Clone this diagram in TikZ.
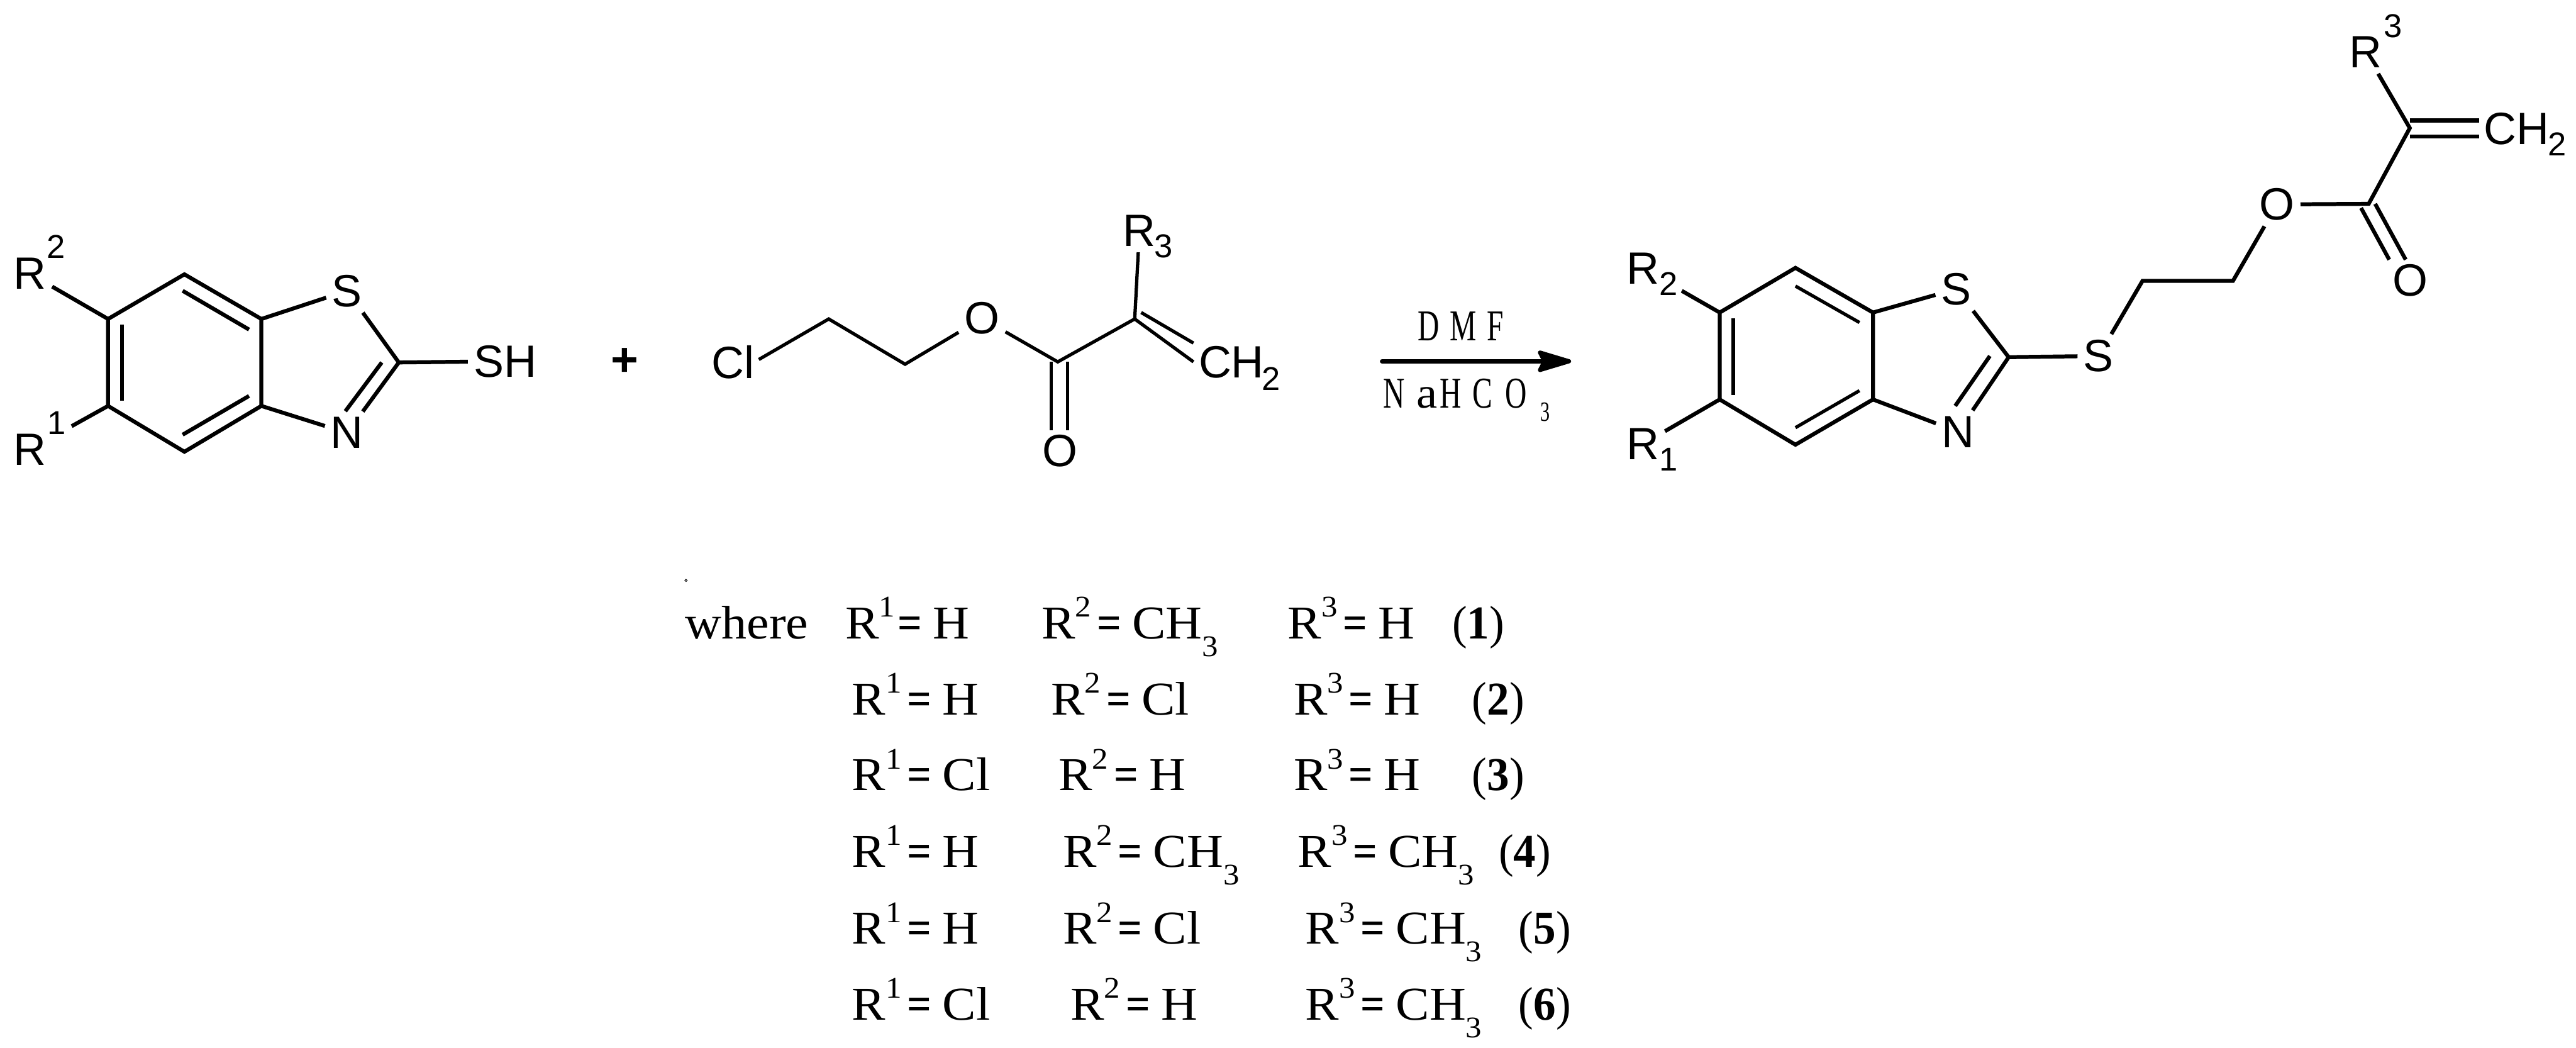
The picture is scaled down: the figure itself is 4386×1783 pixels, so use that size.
\documentclass[tikz,border=0pt]{standalone}
\usepackage{fontspec}
\setmainfont[FakeStretch=1.07]{Liberation Serif}
\newfontfamily\chemfont{Liberation Sans}
\newfontfamily\condfont[FakeStretch=0.68]{Liberation Serif}
\newfontfamily\numfont[FakeStretch=0.95]{Liberation Serif}
\usetikzlibrary{arrows.meta}

\newcommand{\chemsize}{\fontsize{21.9}{24}\selectfont}
\newcommand{\chemsmall}{\fontsize{16}{18}\selectfont}
\newcommand{\tblsize}{\fontsize{22.8}{25}\selectfont}
\newcommand{\tblsmall}{\fontsize{14.5}{16}\selectfont}
\newcommand{\reagsize}{\fontsize{21.3}{24}\selectfont}
\newcommand{\lowthree}{\raisebox{-.3cm}{\tblsmall 3}}
\newcommand{\rterm}[3][.94cm]{\makebox[#1][l]{R\raisebox{.37cm}{\tblsmall #2}}\makebox[.60cm][l]{\scalebox{.85}[1]{\textbf{=}}}#3}

\begin{document}
\begin{tikzpicture}[x=0.01cm, y=-0.01cm,
    bond/.style = {line width=1.9pt},
    thinbond/.style = {line width=1.6pt},
    atom/.style = {font=\chemfont\chemsize, inner sep=.1cm, outer sep=0pt},
    atomnum/.style = {font=\chemfont\chemsmall, inner sep=0pt, outer sep=0pt},
    reagent/.style = {font=\condfont\reagsize, anchor=base west, inner sep=0pt},
    tbl/.style = {font=\tblsize, anchor=base west, inner sep=0pt}]
    \useasboundingbox (0,0) rectangle (4386,1783);

    % left reactant
    \coordinate (la1) at (314,467);
    \coordinate (la2) at (445,543);
    \coordinate (la3) at (445,691);
    \coordinate (la4) at (314,769);
    \coordinate (la5) at (184,691);
    \coordinate (la6) at (184,543);
    \coordinate (lc2) at (679,617);
    \coordinate (li1) at (311,495);
    \coordinate (li2) at (424,561);
    \coordinate (li3) at (424,674);
    \coordinate (li4) at (311,740);
    \coordinate (li5) at (208,682);
    \coordinate (li6) at (208,553);
    \coordinate (ld1) at (650,617);
    \coordinate (ld2) at (588,700);
    \node[atom] (ls) at (591,495) {S};
    \node[atom] (ln) at (591,737) {N};
    \node[atom] (lsh) at (860,615) {SH};
    \node[atom] (lrb) at (51,466) {R};
    \node[atomnum] (lrbn) at (95,420) {2};
    \node[atom] (lra) at (51,765) {R};
    \node[atomnum] (lran) at (96,720) {1};

    \draw[bond] (la1) -- (la2) -- (la3) -- (la4) -- (la5) -- (la6) -- cycle;
    \draw[bond] (li1) -- (li2);
    \draw[bond] (li3) -- (li4);
    \draw[bond] (li5) -- (li6);
    \draw[bond] (la2) -- (ls);
    \draw[bond] (la3) -- (ln);
    \draw[bond] (ls) -- (lc2);
    \draw[bond] (lc2) -- (ln);
    \draw[bond] (ld1) -- (ld2);
    \draw[bond] (lc2) -- (lsh);
    \draw[bond] (la6) -- (lrb);
    \draw[bond, shorten >=.38cm] (la5) -- (lra);

    \node[font=\chemfont\bfseries\fontsize{22.8}{25}\selectfont, inner sep=0pt] (plus) at (1064,616) {+};

    % middle reactant
    \coordinate (mc1) at (1411,543);
    \coordinate (mc2) at (1541,620);
    \coordinate (mc3) at (1801,616);
    \coordinate (mc4) at (1932,543);
    \coordinate (mcl) at (1292,612);
    \coordinate (mo1) at (1790,616);
    \coordinate (mo2) at (1790,732);
    \coordinate (mo3) at (1818,616);
    \coordinate (mo4) at (1818,732);
    \coordinate (md1) at (1943,532);
    \coordinate (md2) at (2032,584);
    \coordinate (md3) at (2032,616);
    \node[atom] (mcln) at (1248,617) {Cl};
    \node[atom] (mo) at (1672,542) {O};
    \node[atom] (mco) at (1805,767) {O};
    \node[atom] (mr) at (1940,393) {R};
    \node[atomnum] (mrn) at (1981,419) {3};
    \node[atom, anchor=west, inner sep=0pt] (mch) at (2041,617) {CH};
    \node[atomnum] (mchn) at (2164,645) {2};

    \draw[thinbond] (mcl) -- (mc1) -- (mc2) -- (mo);
    \draw[thinbond] (mo) -- (mc3) -- (mc4) -- (mr);
    \draw[thinbond] (mc4) -- (md3);
    \draw[thinbond] (md1) -- (md2);
    \draw[thinbond] (mo1) -- (mo2);
    \draw[thinbond] (mo3) -- (mo4);

    % reaction arrow
    \coordinate (arrs) at (2353,615);
    \coordinate (arre) at (2675,615);
    \draw[line width=2pt, line cap=round, -{Stealth[length=.68cm, width=.4cm, inset=.1cm, round]}] (arrs) -- (arre);
    \node[reagent] (dmf) at (2413,580) {\makebox[.55cm][l]{D}\makebox[.63cm][l]{M}F};
    \node[reagent] (nahco) at (2355,694) {\makebox[.56cm][l]{N}\makebox[.40cm][l]{\rmfamily a}\makebox[.55cm][l]{H}\makebox[.56cm][l]{C}\makebox[.60cm][l]{O}\raisebox{-.23cm}{\fontsize{13.5}{15}\selectfont 3}};

    % product
    \coordinate (ra1) at (3057,456);
    \coordinate (ra2) at (3189,532);
    \coordinate (ra3) at (3189,680);
    \coordinate (ra4) at (3057,757);
    \coordinate (ra5) at (2928,680);
    \coordinate (ra6) at (2928,532);
    \coordinate (rc2) at (3420,608);
    \coordinate (ri1) at (3057,487);
    \coordinate (ri2) at (3166,549);
    \coordinate (ri3) at (3166,665);
    \coordinate (ri4) at (3057,728);
    \coordinate (ri5) at (2951,672);
    \coordinate (ri6) at (2951,542);
    \coordinate (rd1) at (3388,606);
    \coordinate (rd2) at (3329,691);
    \coordinate (rc3) at (3648,478);
    \coordinate (rc4) at (3802,478);
    \coordinate (rc5) at (4033,347);
    \coordinate (rc6) at (4103,218);
    \coordinate (re1) at (4103,205);
    \coordinate (re2) at (4221,205);
    \coordinate (re3) at (4103,232);
    \coordinate (re4) at (4221,232);
    \coordinate (rf1) at (4020,354);
    \coordinate (rf2) at (4068,442);
    \coordinate (rf3) at (4044,347);
    \coordinate (rf4) at (4096,442);
    \node[atom] (rs) at (3331,492) {S};
    \node[atom] (rn) at (3334,735) {N};
    \node[atom] (rs2) at (3573,606) {S};
    \node[atom] (ro) at (3877,348) {O};
    \node[atom] (rco) at (4104,477) {O};
    \node[atom] (rr3) at (4028,89) {R};
    \node[atomnum] (rr3n) at (4074,44) {3};
    \node[atom, anchor=west, inner sep=0pt] (rch) at (4229,219) {CH};
    \node[atomnum] (rchn) at (4354,245) {2};
    \node[atom] (rrb) at (2797,457) {R};
    \node[atomnum] (rrbn) at (2841,483) {2};
    \node[atom] (rra) at (2797,756) {R};
    \node[atomnum] (rran) at (2841,782) {1};

    \draw[bond] (ra1) -- (ra2) -- (ra3) -- (ra4) -- (ra5) -- (ra6) -- cycle;
    \draw[thinbond] (ri1) -- (ri2);
    \draw[thinbond] (ri3) -- (ri4);
    \draw[thinbond] (ri5) -- (ri6);
    \draw[bond] (ra2) -- (rs);
    \draw[bond] (ra3) -- (rn);
    \draw[bond] (rs) -- (rc2);
    \draw[bond] (rc2) -- (rn);
    \draw[bond] (rd1) -- (rd2);
    \draw[bond] (rc2) -- (rs2);
    \draw[bond] (rs2) -- (rc3) -- (rc4) -- (ro);
    \draw[bond] (ro) -- (rc5) -- (rc6) -- (rr3);
    \draw[bond] (re1) -- (re2);
    \draw[bond] (re3) -- (re4);
    \draw[bond] (rf1) -- (rf2);
    \draw[bond] (rf3) -- (rf4);
    \draw[bond, shorten >=.33cm] (ra6) -- (rrb);
    \draw[bond] (ra5) -- (rra);

    % list of substituents
    \node[circle, draw, line width=.3pt, minimum size=.04cm, inner sep=0pt] (speck) at (1168,988) {};
    \node[tbl] (where) at (1166,1087) {where};
    \node[tbl] (t1a) at (1439,1087) {\rterm[.89cm]{1}{H}};
    \foreach \name/\x/\y/\n/\val in {
        t1b/1773/1087/2/CH\lowthree, t1c/2192/1087/3/H,
        t2a/1450/1217/1/H, t2b/1789/1217/2/Cl, t2c/2202/1217/3/H,
        t3a/1450/1346/1/Cl, t3b/1802/1346/2/H, t3c/2202/1346/3/H,
        t4a/1450/1476/1/H, t4b/1809/1476/2/CH\lowthree, t4c/2209/1476/3/CH\lowthree,
        t5a/1450/1607/1/H, t5b/1809/1607/2/Cl, t5c/2222/1607/3/CH\lowthree,
        t6a/1450/1736/1/Cl, t6b/1822/1736/2/H, t6c/2222/1736/3/CH\lowthree}
        \node[tbl] (\name) at (\x,\y) {\rterm{\n}{\val}};
    \foreach \name/\x/\y/\n in {n1/2472/1087/1, n2/2506/1217/2, n3/2506/1346/3,
        n4/2551/1476/4, n5/2585/1607/5, n6/2585/1736/6}
        \node[tbl] (\name) at (\x,\y) {\numfont(\textbf{\n})};
\end{tikzpicture}
\end{document}
